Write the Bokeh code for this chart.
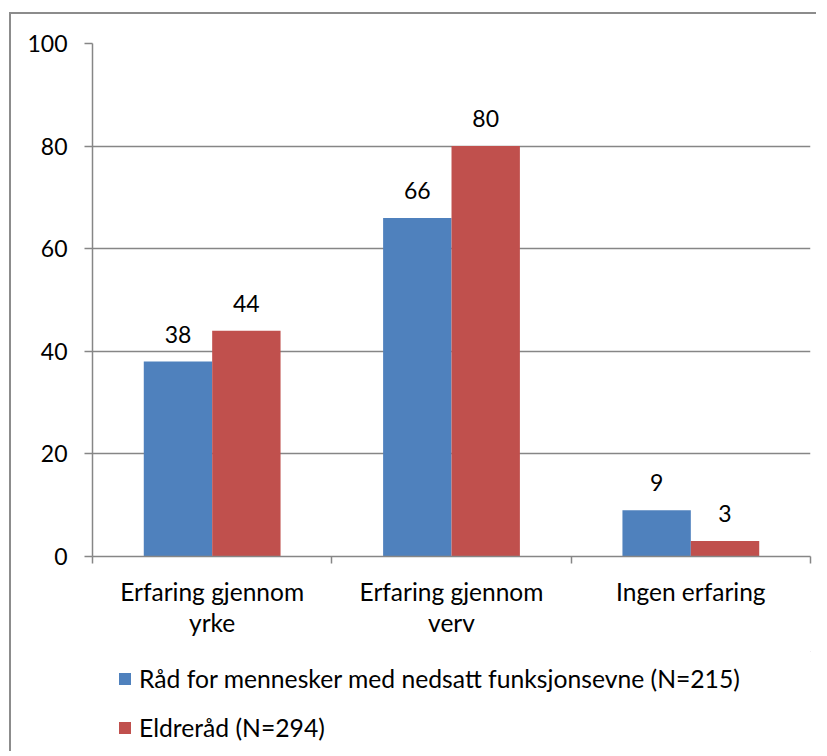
from bokeh.plotting import figure
from bokeh.layouts import column
from bokeh.models import (Range1d, LinearAxis, FixedTicker, ColumnDataSource,
                          LabelSet, Legend, LegendItem)
from bokeh.core.properties import value
from bokeh.transform import dodge
from bokeh.embed import file_html
from bokeh.resources import INLINE

categories = ["Erfaring gjennom\nyrke", "Erfaring gjennom\nverv", "Ingen erfaring"]
series_names = ["Råd for mennesker med nedsatt funksjonsevne (N=215)", "Eldreråd (N=294)"]
raad_values = [38, 66, 9]
eldre_values = [44, 80, 3]
y_ticks = [0, 20, 40, 60, 80, 100]

BLUE = "#4F81BD"
RED = "#C0504D"
GREY = "#868686"
FONT = "Lato"
FS_NUM = "23px"
FS_TXT = "24.5px"

pos = list(range(len(categories)))
src = ColumnDataSource(dict(x=pos, raad=raad_values, eldre=eldre_values,
                            raad_t=[str(v) for v in raad_values],
                            eldre_t=[str(v) for v in eldre_values]))

p = figure(frame_width=718, frame_height=513,
           min_border_left=81, min_border_top=29, min_border_right=6, min_border_bottom=95,
           x_range=Range1d(-0.5, len(categories) - 0.5), y_range=Range1d(0, 100),
           output_backend="svg", toolbar_location=None, x_axis_location=None,
           y_axis_location=None)
p.outline_line_color = None
p.xgrid.visible = False
p.ygrid.ticker = FixedTicker(ticks=y_ticks)
p.ygrid.grid_line_color = GREY
p.ygrid.grid_line_width = 1.3

bw = 0.2857
off = 0.1429
r1 = p.vbar(x=dodge("x", -off, range=p.x_range), top="raad", width=bw, source=src,
            fill_color=BLUE, line_color=None)
r2 = p.vbar(x=dodge("x", off, range=p.x_range), top="eldre", width=bw, source=src,
            fill_color=RED, line_color=None)

for col, o in (("raad_t", -off), ("eldre_t", off)):
    ls = LabelSet(x=dodge("x", o, range=p.x_range), y=col.replace("_t", ""), text=col,
                  source=src, text_align="center", text_baseline="alphabetic",
                  y_offset=19, text_font=value(FONT), text_font_size=value(FS_NUM),
                  text_color="black")
    p.add_layout(ls)

# y axis
yax = LinearAxis(ticker=FixedTicker(ticks=y_ticks))
yax.axis_line_color = GREY
yax.axis_line_width = 1.5
yax.major_tick_line_color = GREY
yax.major_tick_line_width = 1.5
yax.major_tick_out = 8
yax.major_tick_in = 0
yax.minor_tick_line_color = None
yax.major_label_standoff = 17
yax.major_label_text_font = FONT
yax.major_label_text_font_size = FS_NUM
yax.major_label_text_color = "black"
p.add_layout(yax, "left")

# x axis: labels at category centres, minor ticks at category boundaries
xax = LinearAxis(ticker=FixedTicker(ticks=pos,
                                    minor_ticks=[i - 0.5 for i in range(len(categories) + 1)]))
xax.major_label_overrides = {i: c for i, c in enumerate(categories)}
xax.axis_line_color = GREY
xax.axis_line_width = 1.5
xax.major_tick_line_color = None
xax.major_tick_out = 7
xax.major_tick_in = 0
xax.minor_tick_line_color = GREY
xax.minor_tick_line_width = 1.5
xax.minor_tick_out = 7
xax.minor_tick_in = 0
xax.major_label_standoff = 13
xax.major_label_text_font = FONT
xax.major_label_text_font_size = FS_TXT
xax.major_label_text_color = "black"
xax.major_label_text_line_height = 1.1
p.add_layout(xax, "below")

# legend figure below the chart (its frame is aligned with the chart's frame)
lf = figure(width=805, height=100, min_border=0, output_backend="svg",
            toolbar_location=None, x_axis_location=None, y_axis_location=None,
            x_range=Range1d(0, 1), y_range=Range1d(0, 1))
lf.outline_line_color = None
lf.xgrid.visible = False
lf.ygrid.visible = False
g1 = lf.vbar(x=[50], bottom=[50], top=[60], width=0.1, fill_color=BLUE, line_color=None)
g2 = lf.vbar(x=[50], bottom=[50], top=[60], width=0.1, fill_color=RED, line_color=None)
legend = Legend(items=[LegendItem(label=series_names[0], renderers=[g1]),
                       LegendItem(label=series_names[1], renderers=[g2])],
                location=(25, 9.5), orientation="vertical",
                glyph_width=15, glyph_height=15, label_height=28, spacing=20,
                padding=0, margin=0, label_standoff=7,
                label_text_font=FONT, label_text_font_size="24.7px", label_text_color="black",
                border_line_color=None, background_fill_alpha=0)
lf.add_layout(legend, "center")

layout = column(p, lf, spacing=0,
                styles={"border-left": "2px solid #8c8c8c", "border-top": "2px solid #8c8c8c",
                        "margin-left": "9px", "margin-top": "12px"})

open("out.html", "w").write(file_html(layout, INLINE))
